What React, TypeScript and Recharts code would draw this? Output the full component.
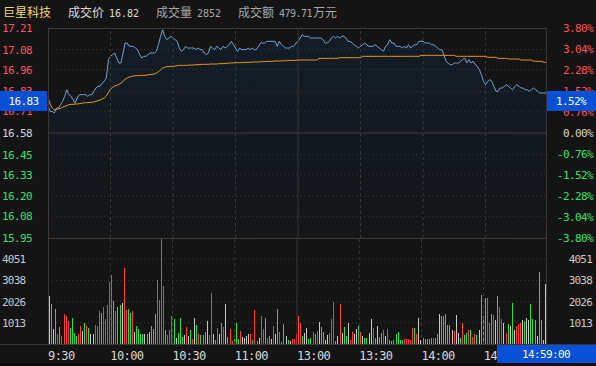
import React from "react";
import {
  ComposedChart,
  Area,
  Line,
  Bar,
  Cell,
  XAxis,
  YAxis,
  CartesianGrid,
  ReferenceLine,
} from "recharts";

// header
const stockName = "巨星科技";
const lastPrice = "16.82";
const lastVolume = "2852";
const turnover = "479.71";
const turnoverUnit = "万元";
const markPrice = "16.83";
const markPct = "1.52%";
const markTime = "14:59:00";

const prevClose = 16.58;

// axes
const timeTicks = [0, 30, 60, 90, 120, 150, 180, 210];
const timeLabels = ["9:30", "10:00", "10:30", "11:00", "13:00", "13:30", "14:00", "14:30"];
const priceTicks = [15.95, 16.08, 16.2, 16.33, 16.45, 16.58, 16.71, 16.83, 16.96, 17.08, 17.21];
const pctTicks = [-3.8, -3.04, -2.28, -1.52, -0.76, 0, 0.76, 1.52, 2.28, 3.04, 3.8];
const volTicks = [1013, 2026, 3038, 4051];
const volTop = 5064;

// minute prices, 9:30 .. 14:59
const price = [
  16.75, 16.71, 16.71, 16.70, 16.73, 16.73, 16.75, 16.77, 16.80, 16.84,
  16.81, 16.80, 16.78, 16.76, 16.79, 16.81, 16.81, 16.81, 16.81, 16.80,
  16.81, 16.81, 16.83, 16.85, 16.86, 16.86, 16.88, 16.89, 16.91, 17.02,
  17.04, 17.05, 17.06, 17.03, 17.00, 17.00, 17.06, 17.12, 17.12, 17.10,
  17.10, 17.10, 17.09, 17.08, 17.05, 17.03, 17.04, 17.04, 17.05, 17.06,
  17.06, 17.06, 17.07, 17.11, 17.16, 17.20, 17.16, 17.14, 17.15, 17.16,
  17.15, 17.14, 17.13, 17.09, 17.07, 17.08, 17.10, 17.09, 17.09, 17.09,
  17.09, 17.08, 17.09, 17.08, 17.08, 17.06, 17.05, 17.06, 17.10, 17.09,
  17.08, 17.10, 17.09, 17.08, 17.10, 17.09, 17.10, 17.11, 17.13, 17.11,
  17.09, 17.07, 17.09, 17.08, 17.08, 17.08, 17.09, 17.08, 17.09, 17.08,
  17.08, 17.10, 17.12, 17.12, 17.12, 17.13, 17.13, 17.13, 17.13, 17.13,
  17.10, 17.13, 17.11, 17.10, 17.09, 17.09, 17.09, 17.10, 17.10, 17.12,
  17.13, 17.15, 17.17, 17.16, 17.16, 17.16, 17.15, 17.15, 17.15, 17.15,
  17.15, 17.15, 17.14, 17.12, 17.12, 17.13, 17.15, 17.16, 17.15, 17.16,
  17.15, 17.16, 17.16, 17.15, 17.13, 17.13, 17.12, 17.11, 17.10, 17.09,
  17.10, 17.11, 17.12, 17.11, 17.10, 17.10, 17.10, 17.11, 17.10, 17.09,
  17.08, 17.07, 17.10, 17.11, 17.14, 17.12, 17.12, 17.10, 17.10, 17.10,
  17.09, 17.10, 17.09, 17.11, 17.09, 17.10, 17.11, 17.11, 17.13, 17.13,
  17.13, 17.12, 17.12, 17.12, 17.11, 17.11, 17.10, 17.09, 17.08, 17.08,
  17.05, 17.01, 17.00, 16.99, 16.99, 17.00, 17.00, 17.00, 17.01, 17.02,
  17.03, 17.00, 17.02, 17.00, 17.01, 16.99, 16.98, 16.96, 16.93, 16.89,
  16.87, 16.89, 16.90, 16.89, 16.86, 16.83, 16.83, 16.85, 16.85, 16.86,
  16.87, 16.86, 16.85, 16.84, 16.86, 16.87, 16.86, 16.85, 16.85, 16.84,
  16.84, 16.83, 16.84, 16.85, 16.84, 16.83, 16.82, 16.82, 16.82, 16.82,
];

const avgPrice = [
  16.794, 16.754, 16.730, 16.718, 16.722, 16.724, 16.728, 16.734, 16.740, 16.744,
  16.750, 16.752, 16.752, 16.754, 16.754, 16.756, 16.758, 16.760, 16.762, 16.762,
  16.764, 16.764, 16.766, 16.770, 16.774, 16.778, 16.784, 16.790, 16.802, 16.824,
  16.844, 16.854, 16.862, 16.866, 16.872, 16.878, 16.890, 16.902, 16.910, 16.916,
  16.920, 16.922, 16.924, 16.924, 16.924, 16.926, 16.926, 16.926, 16.930, 16.930,
  16.932, 16.934, 16.940, 16.948, 16.958, 16.970, 16.974, 16.978, 16.978, 16.980,
  16.980, 16.982, 16.984, 16.986, 16.986, 16.986, 16.986, 16.986, 16.988, 16.988,
  16.988, 16.990, 16.990, 16.990, 16.992, 16.992, 16.992, 16.992, 16.994, 16.994,
  16.994, 16.994, 16.996, 16.996, 16.996, 16.998, 16.998, 17.000, 17.000, 17.000,
  17.002, 17.002, 17.002, 17.002, 17.004, 17.004, 17.004, 17.004, 17.006, 17.006,
  17.006, 17.006, 17.008, 17.008, 17.008, 17.010, 17.010, 17.010, 17.010, 17.012,
  17.012, 17.012, 17.012, 17.014, 17.014, 17.014, 17.016, 17.016, 17.016, 17.016,
  17.018, 17.018, 17.018, 17.018, 17.018, 17.018, 17.018, 17.018, 17.018, 17.018,
  17.028, 17.028, 17.028, 17.028, 17.028, 17.028, 17.028, 17.028, 17.028, 17.028,
  17.032, 17.032, 17.032, 17.032, 17.032, 17.032, 17.032, 17.032, 17.032, 17.032,
  17.032, 17.040, 17.040, 17.040, 17.040, 17.040, 17.040, 17.040, 17.040, 17.040,
  17.040, 17.040, 17.040, 17.040, 17.040, 17.040, 17.040, 17.040, 17.040, 17.040,
  17.040, 17.040, 17.040, 17.040, 17.040, 17.040, 17.040, 17.040, 17.040, 17.046,
  17.046, 17.046, 17.046, 17.046, 17.046, 17.046, 17.046, 17.046, 17.046, 17.046,
  17.046, 17.046, 17.046, 17.046, 17.046, 17.046, 17.040, 17.040, 17.040, 17.040,
  17.040, 17.040, 17.040, 17.040, 17.040, 17.040, 17.040, 17.040, 17.040, 17.040,
  17.040, 17.034, 17.034, 17.034, 17.034, 17.034, 17.028, 17.028, 17.028, 17.028,
  17.028, 17.024, 17.024, 17.024, 17.024, 17.024, 17.024, 17.018, 17.018, 17.018,
  17.018, 17.018, 17.018, 17.010, 17.010, 17.010, 17.010, 17.010, 17.004, 17.004,
];

const volume = [
  2288, 1904, 736, 1664, 464, 800, 368, 1424, 1360, 1088,
  752, 1264, 528, 368, 464, 848, 624, 992, 848, 752,
  496, 496, 896, 848, 1568, 1488, 1760, 1184, 1856, 2976,
  3312, 2064, 1568, 1744, 1856, 1968, 3648, 1616, 1664, 1488,
  1584, 576, 848, 736, 496, 464, 496, 496, 592, 848,
  704, 1424, 3040, 2096, 5024, 2768, 688, 416, 656, 1328,
  1184, 288, 528, 1264, 336, 416, 816, 368, 672, 240,
  1264, 896, 464, 416, 416, 576, 1104, 416, 2448, 464,
  176, 752, 464, 1008, 816, 1904, 336, 704, 144, 224,
  992, 224, 608, 336, 304, 368, 464, 464, 176, 1616,
  128, 304, 1328, 704, 1232, 272, 368, 224, 848, 464,
  1664, 560, 80, 944, 368, 176, 128, 224, 256, 464,
  1328, 992, 368, 512, 752, 224, 272, 560, 464, 608,
  1040, 800, 560, 176, 416, 512, 1184, 2000, 128, 368,
  1904, 512, 800, 368, 992, 176, 560, 464, 704, 848,
  560, 368, 272, 272, 512, 1184, 752, 272, 848, 320,
  512, 656, 368, 704, 176, 128, 176, 464, 560, 176,
  208, 240, 240, 240, 192, 752, 752, 464, 1264, 176,
  272, 240, 256, 240, 272, 272, 304, 464, 1424, 1328,
  1328, 1424, 896, 896, 656, 608, 1376, 512, 272, 992,
  416, 512, 656, 688, 320, 464, 416, 656, 2336, 1328,
  2192, 2192, 992, 1424, 1376, 1136, 2288, 1760, 1184, 992,
  512, 944, 848, 1952, 656, 848, 944, 992, 1136, 1088,
  1232, 1136, 1904, 1184, 1136, 368, 3456, 1136, 176, 2864,
];

// R = up, G = down, W = flat
const volSide = (
  "WGWGRGRRRR" + "GGGGRRWGRG" + "WWRRRGRRRR" + "RGRGGWRRGG" +
  "RWGGGGWGWG" + "GGRRRRGRRR" + "GWGGGWRWGR" + "WGRGGGWRRW" +
  "GRWGRWGRRG" + "GGRWWWWRGR" + "GWRRGRGWRW" + "GRGGWGWRRR" +
  "RRGWWGGRGR" + "WGGWWRRRGW" + "RWGGWRRWWG" + "RWGGWWRGWG" +
  "GRWRGGGGGG" + "GRRRRRGRWW" + "GGGGGRGGWG" + "GGGGWRWWGR" +
  "GGRGRRGWGG" + "GRRGRWGRRW" + "RGWGWRRRWG" + "WWGGGWGGWW"
).split("");

const rows = price.map((p, i) => ({
  i,
  price: p,
  avg: avgPrice[i],
  vol: volume[i],
  side: volSide[i],
}));

const BG = "#141414";
const GRID = "#3a3a3a";
const FRAME = "#383838";
const MONO = "'DejaVu Sans Mono', monospace";
const CJK = "'Noto Sans CJK SC', sans-serif";

function levelColor(v: number, ref: number) {
  if (v > ref + 1e-9) return "#ff5252";
  if (v < ref - 1e-9) return "#33e06a";
  return "#d4d4d4";
}

function sideColor(s: string) {
  if (s === "R") return "#ff3c3c";
  if (s === "G") return "#1fe050";
  return "#c8c8c8";
}

const PriceTickL = ({ y, payload }: any) => (
  <text x={2} y={y} dy={4} fill={levelColor(payload.value, prevClose)} fontSize={11} fontFamily={MONO} letterSpacing={-0.6}>
    {payload.value.toFixed(2)}
  </text>
);

const PctTickR = ({ y, payload }: any) => (
  <text x={593} y={y} dy={4} textAnchor="end" fill={levelColor(payload.value, 0)} fontSize={11} fontFamily={MONO} letterSpacing={-0.6}>
    {payload.value.toFixed(2) + "%"}
  </text>
);

const VolTickL = ({ y, payload }: any) => (
  <text x={2} y={y} dy={4} fill="#c8c8c8" fontSize={11} fontFamily={MONO} letterSpacing={-0.8}>
    {payload.value}
  </text>
);

const VolTickR = ({ y, payload }: any) => (
  <text x={592} y={y} dy={4} textAnchor="end" fill="#c8c8c8" fontSize={11} fontFamily={MONO} letterSpacing={-0.8}>
    {payload.value}
  </text>
);

const TimeTick = ({ x, payload }: any) => {
  const k = timeTicks.indexOf(payload.value);
  return (
    <text x={x - 1} y={122} fill="#d8d8d8" fontSize={12} fontFamily={MONO} letterSpacing={-0.6}>
      {timeLabels[k]}
    </text>
  );
};

const VolBar = (props: any) => {
  const { x, y, height, fill } = props;
  if (!height || height <= 0) return null;
  return <rect x={Math.round(x)} y={y} width={1} height={height} fill={fill} shapeRendering="crispEdges" />;
};

function vLines(axisId: string) {
  return timeTicks.slice(1).map((t) => (
    <ReferenceLine
      key={"v" + t}
      yAxisId={axisId}
      x={t}
      position="start"
      stroke={t === 120 ? FRAME : GRID}
      strokeDasharray={t === 120 ? undefined : "3 3"}
    />
  ));
}

export default function App() {
  return (
    <div style={{ position: "absolute", left: 0, top: 0, width: 596, height: 366, background: BG, overflow: "hidden" }}>
      <div style={{ position: "absolute", left: 0, top: 238 }}>
        <ComposedChart width={596} height={128} data={rows} margin={{ top: 0, right: 0, bottom: 0, left: 0 }} barCategoryGap={0}>
          <XAxis
            dataKey="i"
            height={22}
            ticks={timeTicks}
            interval={0}
            tickLine={false}
            axisLine={false}
            tick={<TimeTick />}
          />
          <YAxis
            yAxisId="v"
            width={48}
            domain={[0, volTop]}
            ticks={volTicks}
            interval={0}
            allowDataOverflow
            tickLine={false}
            axisLine={false}
            tick={<VolTickL />}
          />
          <YAxis
            yAxisId="vr"
            orientation="right"
            width={50}
            domain={[0, volTop]}
            ticks={volTicks}
            interval={0}
            allowDataOverflow
            tickLine={false}
            axisLine={false}
            tick={<VolTickR />}
          />
          <CartesianGrid yAxisId="v" vertical={false} horizontalValues={volTicks} stroke={GRID} strokeDasharray="1 3" />
          {vLines("v")}
          <Bar yAxisId="v" dataKey="vol" barSize={1} shape={<VolBar />} isAnimationActive={false}>
            {rows.map((r) => (
              <Cell key={r.i} fill={sideColor(r.side)} />
            ))}
          </Bar>
        </ComposedChart>
      </div>

      <div style={{ position: "absolute", left: 0, top: 0 }}>
        <ComposedChart width={596} height={248} data={rows} margin={{ top: 28, right: 0, bottom: 10, left: 0 }}>
          <defs>
            <linearGradient id="pf" x1="0" y1="0" x2="0" y2="1">
              <stop offset="0%" stopColor="#0d3560" stopOpacity={0.42} />
              <stop offset="100%" stopColor="#0d3560" stopOpacity={0.06} />
            </linearGradient>
          </defs>
          <XAxis dataKey="i" hide />
          <YAxis
            yAxisId="p"
            width={48}
            domain={[15.95, 17.21]}
            ticks={priceTicks}
            interval={0}
            allowDataOverflow
            tickLine={false}
            axisLine={false}
            tick={<PriceTickL />}
          />
          <YAxis
            yAxisId="pct"
            orientation="right"
            width={50}
            domain={[-3.8, 3.8]}
            ticks={pctTicks}
            interval={0}
            allowDataOverflow
            tickLine={false}
            axisLine={false}
            tick={<PctTickR />}
          />
          <CartesianGrid yAxisId="p" vertical={false} stroke={GRID} strokeDasharray="1 3" />
          {vLines("p")}
          <ReferenceLine yAxisId="p" y={prevClose} stroke={FRAME} />
          <Area
            yAxisId="p"
            type="linear"
            dataKey="price"
            stroke="#6fa3d6"
            strokeWidth={1}
            fill="url(#pf)"
            dot={false}
            activeDot={false}
            isAnimationActive={false}
          />
          <Line
            yAxisId="p"
            type="linear"
            dataKey="avg"
            stroke="#eb9a1a"
            strokeWidth={1}
            dot={false}
            activeDot={false}
            isAnimationActive={false}
          />
        </ComposedChart>
      </div>

      <svg width={596} height={366} style={{ position: "absolute", left: 0, top: 0, pointerEvents: "none" }}>
        {/* frame */}
        <line x1={48} x2={547} y1={28.5} y2={28.5} stroke={FRAME} />
        <line x1={48} x2={547} y1={238.5} y2={238.5} stroke={FRAME} />
        <line x1={0} x2={596} y1={344.5} y2={344.5} stroke={FRAME} />
        <line x1={48.5} x2={48.5} y1={28} y2={345} stroke={FRAME} />
        <line x1={546.5} x2={546.5} y1={28} y2={345} stroke={FRAME} />

        {/* header */}
        <text x={3} y={17} fill="#f2d46a" fontSize={12} fontFamily={CJK}>{stockName}</text>
        <text x={68} y={17} fill="#dcdcdc" fontSize={12} fontFamily={CJK}>成交价</text>
        <text x={109} y={17} fill="#dcdcdc" fontSize={10} fontFamily={MONO}>{lastPrice}</text>
        <text x={156} y={17} fill="#a8a8a8" fontSize={12} fontFamily={CJK}>成交量</text>
        <text x={197} y={17} fill="#a8a8a8" fontSize={10} fontFamily={MONO}>{lastVolume}</text>
        <text x={238} y={17} fill="#a8a8a8" fontSize={12} fontFamily={CJK}>成交额</text>
        <text x={279} y={17} fill="#a8a8a8" fontSize={10} fontFamily={MONO} letterSpacing={-0.5}>{turnover}</text>
        <text x={313} y={17} fill="#a8a8a8" fontSize={12} fontFamily={CJK}>{turnoverUnit}</text>

        {/* last price / time markers */}
        <rect x={0} y={91} width={47} height={20} fill="#0650d8" />
        <text x={23.5} y={105} textAnchor="middle" fill="#ffffff" fontSize={11} fontFamily={MONO} letterSpacing={-0.6}>{markPrice}</text>
        <rect x={547} y={91} width={49} height={20} fill="#0650d8" />
        <text x={571} y={105} textAnchor="middle" fill="#ffffff" fontSize={11} fontFamily={MONO} letterSpacing={-0.6}>{markPct}</text>
        <rect x={497} y={345} width={99} height={18} fill="#0650d8" />
        <text x={546} y={358} textAnchor="middle" fill="#ffffff" fontSize={11} fontFamily={MONO} letterSpacing={-0.6}>{markTime}</text>
        <rect x={0} y={363} width={596} height={3} fill="#0c0c0c" />
      </svg>
    </div>
  );
}
